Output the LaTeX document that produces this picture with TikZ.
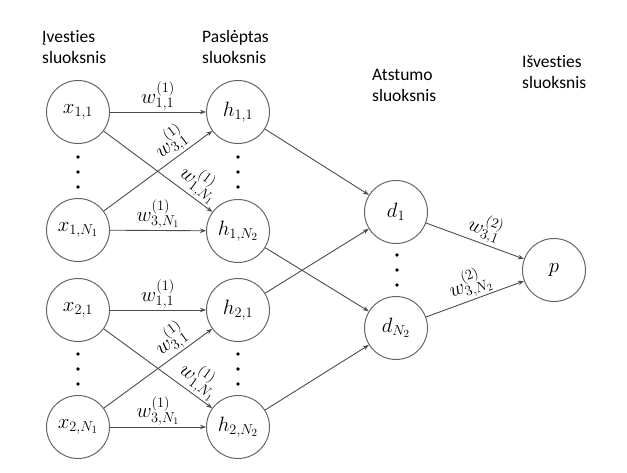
\documentclass[tikz,border=0pt]{standalone}
\usepackage{fontspec}
\newfontfamily\hdrfont[Ligatures=NoCommon]{Carlito}
\usetikzlibrary{arrows.meta}
\begin{document}
\begin{tikzpicture}[x=1pt,y=-1pt,
  neuron/.style={circle,draw=black!60,line width=1pt,minimum size=63pt,inner sep=0pt,font=\fontsize{21}{25}\selectfont},
  conn/.style={draw=black!70,line width=0.9pt,-{Stealth[length=6pt,width=4.5pt]}},
  wlab/.style={font=\fontsize{20}{24}\selectfont,inner sep=1.5pt},
  hdr/.style={anchor=base west,align=left,inner sep=0pt,font=\hdrfont\fontsize{17.5}{21.5}\selectfont},
  vdot/.style={circle,fill=black,inner sep=0pt,minimum size=3.6pt}]
\useasboundingbox (0,0) rectangle (627,473);

% headers (anchor at baseline of the last line)
\node[hdr] (t1) at (42,64) {Įvesties\\sluoksnis};
\node[hdr] (t2) at (202,64) {Paslėptas\\sluoksnis};
\node[hdr] (t3) at (372,102) {Atstumo\\sluoksnis};
\node[hdr] (t4) at (522,89) {Išvesties\\sluoksnis};

% neurons
\node[neuron] (x11) at (78,112) {$x_{1,1}$};
\node[neuron] (x1N) at (78,230) {$x_{1,N_1}$};
\node[neuron] (x21) at (78,310) {$x_{2,1}$};
\node[neuron] (x2N) at (78,427) {$x_{2,N_1}$};
\node[neuron] (h11) at (238,112) {$h_{1,1}$};
\node[neuron] (h1N) at (238,231) {$h_{1,N_2}$};
\node[neuron] (h21) at (238,310) {$h_{2,1}$};
\node[neuron] (h2N) at (238,427) {$h_{2,N_2}$};
\node[neuron] (d1) at (396,212) {$d_1$};
\node[neuron] (dN) at (396,328) {$d_{N_2}$};
\node[neuron] (p) at (554,270) {$p$};

% dots
\foreach \cx/\nm in {78/a,238/b}{
  \foreach \cy/\k in {157/1,172/2,187/3,354/4,369/5,384/6}{
    \node[vdot] (dot\nm\k) at (\cx,\cy) {};
  }
}
\node[vdot] (dotc1) at (397,255) {};
\node[vdot] (dotc2) at (397,270) {};
\node[vdot] (dotc3) at (397,285) {};

% group 1
\draw[conn] (x11) -- node[wlab,above]{$w^{(1)}_{1,1}$} (h11);
\draw[conn] (x11) -- node[wlab,above,sloped,pos=0.8]{$w^{(1)}_{1,N_1}$} (h1N);
\draw[conn] (x1N) -- node[wlab,above,sloped,pos=0.7]{$w^{(1)}_{3,1}$} (h11);
\draw[conn] (x1N) -- node[wlab,above]{$w^{(1)}_{3,N_1}$} (h1N);
% group 2
\draw[conn] (x21) -- node[wlab,above]{$w^{(1)}_{1,1}$} (h21);
\draw[conn] (x21) -- node[wlab,above,sloped,pos=0.8]{$w^{(1)}_{1,N_1}$} (h2N);
\draw[conn] (x2N) -- node[wlab,above,sloped,pos=0.7]{$w^{(1)}_{3,1}$} (h21);
\draw[conn] (x2N) -- node[wlab,above]{$w^{(1)}_{3,N_1}$} (h2N);
% hidden to distance
\draw[conn] (h11) -- (d1);
\draw[conn] (h1N) -- (dN);
\draw[conn] (h21) -- (d1);
\draw[conn] (h2N) -- (dN);
% distance to output
\draw[conn] (d1) -- node[wlab,above,sloped,pos=0.55]{$w^{(2)}_{3,1}$} (p);
\draw[conn] (dN) -- node[wlab,above,sloped]{$w^{(2)}_{3,N_2}$} (p);
\end{tikzpicture}
\end{document}
